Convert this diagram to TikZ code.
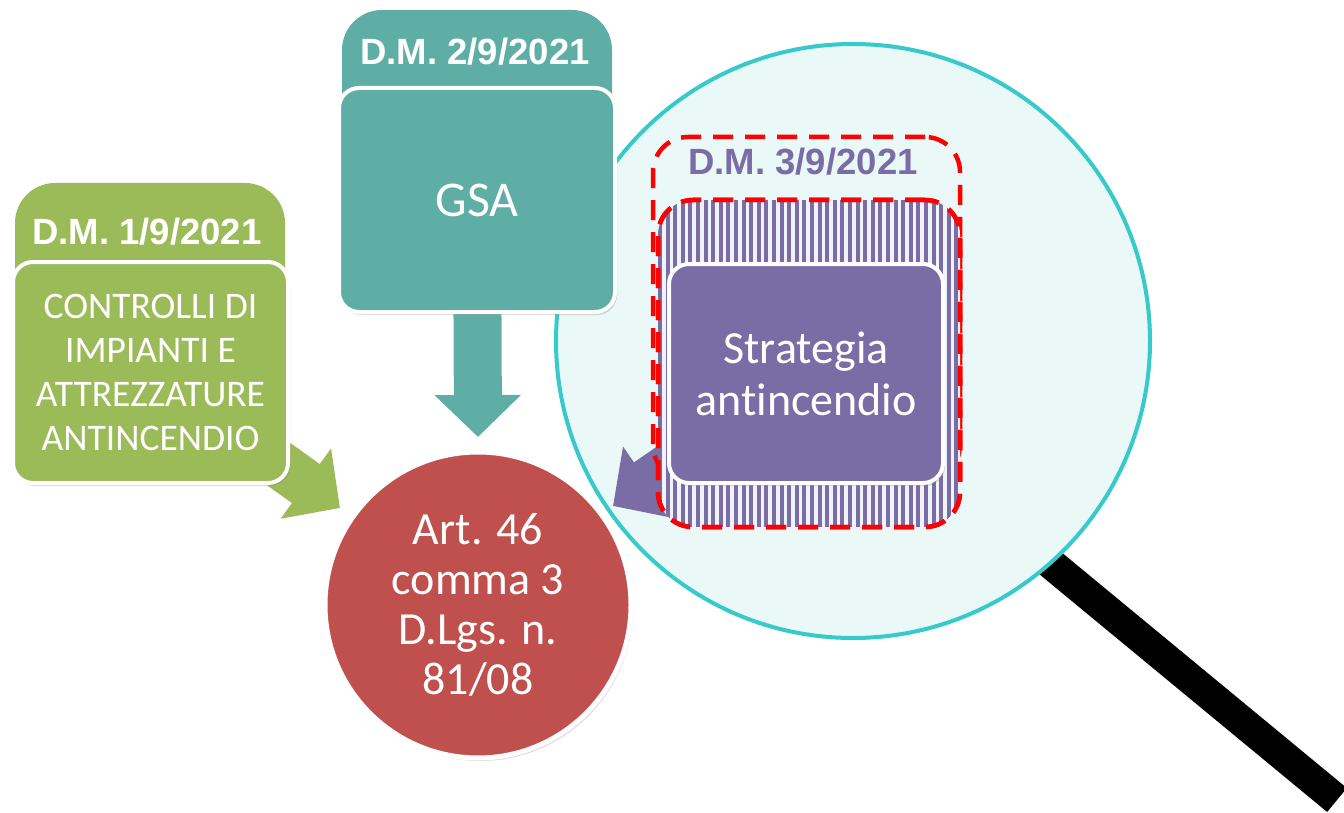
\documentclass[tikz,border=0pt]{standalone}
\usepackage{fontspec}
\setmainfont{Carlito}[Ligatures=NoCommon]
\newfontfamily\dmfont{Liberation Sans}
\usetikzlibrary{positioning}
\usetikzlibrary{arrows.meta}
\usetikzlibrary{shadows}
\definecolor{dmgreen}{RGB}{155,187,89}
\definecolor{dmteal}{RGB}{95,174,165}
\definecolor{dmpurple}{RGB}{122,108,165}
\definecolor{artred}{RGB}{192,80,77}
\definecolor{lensfill}{RGB}{234,248,248}
\definecolor{lensline}{RGB}{54,202,202}
\definecolor{dashred}{RGB}{255,0,0}
\definecolor{stripebg}{RGB}{240,244,250}

\begin{document}
\begin{tikzpicture}[
    x=1pt, y=-1pt,
    tab/.style={rectangle, fill=#1, rounded corners=40pt, minimum width=270pt, minimum height=290pt},
    card/.style={rectangle, fill=#1, draw=white, line width=4pt, rounded corners=20pt, text=white, align=center,
      drop shadow={shadow xshift=2pt, shadow yshift=-3pt, opacity=0.3}},
    dmlabel/.style={font=\dmfont\bfseries\fontsize{36.5}{40}\selectfont, text=#1},
    fatarrow/.style={draw=#1, line width=48pt, -{Triangle[width=84pt, length=42pt, fill=#1]}},
    dashbox/.style={draw=dashred, line width=4.5pt, dash pattern=on 20pt off 12pt, rounded corners=35pt},
    stripe/.style={draw=dmpurple, solid, line width=4pt}
]
\useasboundingbox (0,0) rectangle (1344,813);

% Magnifier
\coordinate (hstart) at (998,520);
\coordinate (hend) at (1337,800);
\draw[line width=31pt, black] (hstart) -- (hend);
\node[circle, minimum size=594pt, fill=lensfill, draw=lensline, line width=4pt] (lens) at (853,341) {};

% Art. 46
\node[circle, minimum size=306pt, inner sep=0pt, fill=artred, draw=white, line width=5pt, text=white, align=center,
  font=\fontsize{46}{50}\selectfont, drop shadow={shadow xshift=2pt, shadow yshift=-3pt, opacity=0.3}]
  (art46) at (478,605) {Art. 46\\comma 3\\D.Lgs. n.\\81/08};

% Arrows
\coordinate (tip1) at (340,508);
\coordinate (tip2) at (478,437);
\coordinate (tip3) at (613,506);
\draw[fatarrow=dmgreen] (150,372) -- (tip1);
\draw[fatarrow=dmteal] (477,200) -- (tip2);
\draw[fatarrow=dmpurple] (806,373) -- (tip3);

% D.M. 1/9/2021
\node[tab=dmgreen, minimum width=270pt, minimum height=287pt] (dm1tab) at (150,326.5) {};
\node[dmlabel=white] (dm1lbl) at (147,232) {D.M. 1/9/2021};
\node[card=dmgreen, minimum width=275pt, minimum height=221pt, font=\fontsize{37.5}{44}\selectfont]
  (dm1box) at (150.5,372.5) {CONTROLLI DI\\IMPIANTI E\\ATTREZZATURE\\ANTINCENDIO};

% D.M. 2/9/2021
\node[tab=dmteal, minimum width=270pt, minimum height=290pt] (dm2tab) at (477,155) {};
\node[dmlabel=white] (dm2lbl) at (475,52) {D.M. 2/9/2021};
\node[card=dmteal, minimum width=276pt, minimum height=224pt, font=\fontsize{50}{56}\selectfont]
  (dm2box) at (477,200) {GSA};

% D.M. 3/9/2021
\node[rectangle, dashbox, minimum width=307pt, minimum height=343pt] (dm3tab) at (806.5,308.5) {};
\node[dmlabel=dmpurple] (dm3lbl) at (803,162) {D.M. 3/9/2021};
\node[rectangle, dashbox, fill=stripebg, minimum width=302pt, minimum height=327pt,
  path picture={
    \foreach \i in {0,...,40}
      \draw[stripe] ([xshift=\i*7.6pt+2pt]path picture bounding box.north west)
        -- ([xshift=\i*7.6pt+2pt]path picture bounding box.south west);
  }] (dm3frame) at (809,363.5) {};
\node[rectangle, dashbox, minimum width=302pt, minimum height=327pt] (dm3edge) at (dm3frame) {};
\node[card=dmpurple, minimum width=274pt, minimum height=219pt, font=\fontsize{46}{52}\selectfont]
  (dm3box) at (806,373.5) {Strategia\\antincendio};
\end{tikzpicture}
\end{document}
